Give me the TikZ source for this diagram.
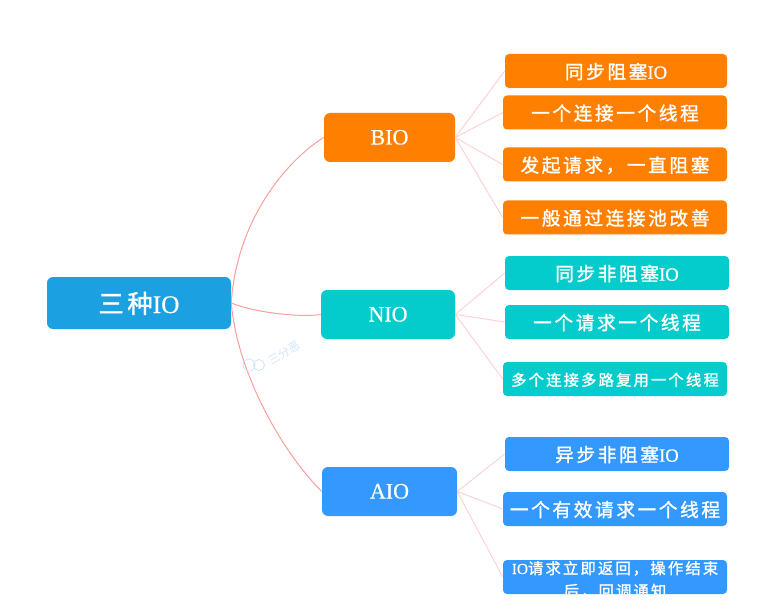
\documentclass[tikz,border=0pt]{standalone}
\usepackage{fontspec}
\setmainfont[FakeBold=0.5]{Liberation Serif}
\newfontfamily\cjk[LetterSpace=14,FakeBold=1.4]{Noto Sans CJK SC}
\newfontfamily\cjkplain{Noto Sans CJK SC}
\usetikzlibrary{positioning}
\definecolor{orangebox}{HTML}{FF8000}
\definecolor{tealbox}{HTML}{05CCCC}
\definecolor{bluebox}{HTML}{3399FF}
\definecolor{rootblue}{HTML}{1BA1E2}
\definecolor{mainline}{HTML}{FF9C9C}
\definecolor{subline}{HTML}{FFD2D2}
\definecolor{markblue}{HTML}{CFE4FA}
\tikzset{
  rootbox/.style = {fill=rootblue, text=white, rounded corners=4.5pt, minimum width=138pt,
                    minimum height=39pt, inner sep=0pt, text height=17pt, text depth=2pt,
                    font=\fontsize{19}{22}\selectfont},
  midbox/.style  = {text=white, rounded corners=4.5pt, minimum height=36.75pt, inner sep=0pt,
                    text height=12.5pt, text depth=2pt, font=\fontsize{16.5}{20}\selectfont},
  leafbox/.style = {text=white, rounded corners=3pt, minimum height=25.5pt, inner sep=0pt,
                    text height=13pt, text depth=1.5pt, font=\fontsize{14}{17}\selectfont},
  smallleaf/.style = {leafbox, text height=12pt, text depth=2pt, font=\fontsize{11.5}{17}\selectfont},
  mainwire/.style = {mainline, line width=0.75pt},
  subwire/.style  = {subline, line width=0.75pt},
}
\begin{document}
\begin{tikzpicture}[x=0.75pt,y=-0.75pt]
  \useasboundingbox (0,0) rectangle (782,613);
  % main boxes
  \node[rootbox] (root) at (139,303) {{\cjk 三种}IO};
  \node[midbox,fill=orangebox,minimum width=98.25pt] (bio) at (389.5,137.5) {BIO};
  \node[midbox,fill=tealbox,minimum width=100.5pt] (nio) at (388,314.5) {NIO};
  \node[midbox,fill=bluebox,minimum width=101.25pt] (aio) at (389.5,491.5) {AIO};
  % BIO
  \node[leafbox,fill=orangebox,minimum width=166.5pt] (b1) at (616,71) {{\cjk 同步阻塞}IO};
  \node[leafbox,fill=orangebox,minimum width=168pt] (b2) at (615,112.5) {\cjk 一个连接一个线程};
  \node[leafbox,fill=orangebox,minimum width=168pt] (b3) at (615,164.5) {\cjk 发起请求，一直阻塞};
  \node[leafbox,fill=orangebox,minimum width=168pt] (b4) at (615,217.5) {\cjk 一般通过连接池改善};
  % NIO
  \node[leafbox,fill=tealbox,minimum width=168pt] (n1) at (617,273) {{\cjk 同步非阻塞}IO};
  \node[leafbox,fill=tealbox,minimum width=168pt] (n2) at (617,322) {\cjk 一个请求一个线程};
  \node[smallleaf,fill=tealbox,minimum width=168pt] (n3) at (615,379) {\cjk 多个连接多路复用一个线程};
  % AIO
  \node[leafbox,fill=bluebox,minimum width=168pt] (a1) at (617,454) {{\cjk 异步非阻塞}IO};
  \node[leafbox,fill=bluebox,minimum width=168pt] (a2) at (615,509) {\cjk 一个有效请求一个线程};
  \node[smallleaf,fill=bluebox,minimum width=168pt,
        path picture={\node[smallleaf,align=center,text height=,text depth=,yshift=-2pt] (a3text)
          at (path picture bounding box.center) {IO{\cjk 请求立即返回，操作结束}\\{\cjk 后，回调通知}};}]
        (a3) at (615,577) {};
  % connectors
  \draw[mainwire] (root.east) .. controls +(5,-80) and +(-40,25) .. (bio.west);
  \draw[mainwire] (root.east) .. controls +(25,10) and +(-20,3) .. (nio.west);
  \draw[mainwire] (root.east) .. controls +(6,70) and +(-40,-40) .. (aio.west);
  \foreach \leaf in {b1,b2,b3,b4}{
    \draw[subwire] (bio.east) -- (\leaf.west);}
  \foreach \leaf in {n1,n2,n3}{
    \draw[subwire] (nio.east) -- (\leaf.west);}
  \foreach \leaf in {a1,a2,a3}{
    \draw[subwire] (aio.east) -- (\leaf.west);}
  % watermark
  \draw[markblue,line width=0.6pt] (249,365) circle (6) (259,365) circle (5.5);
  \node[text=markblue,rotate=30,font=\fontsize{8.5}{10}\cjkplain] (mark) at (284,353) {三分恶};
\end{tikzpicture}
\end{document}
